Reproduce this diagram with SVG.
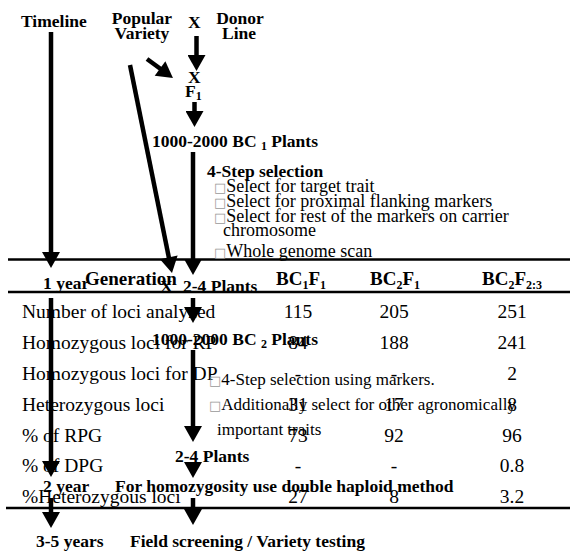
<svg xmlns="http://www.w3.org/2000/svg" width="576" height="551" viewBox="0 0 576 551">
<style>
.b{font-family:"Liberation Serif","Times New Roman",serif;font-weight:bold;font-size:17.5px;fill:#000}
.h{font-family:"Liberation Serif","Times New Roman",serif;font-weight:bold;font-size:19px;fill:#000}
.t{font-family:"Liberation Serif","Times New Roman",serif;font-size:19.5px;fill:#000}
.s{font-family:"Liberation Serif","Times New Roman",serif;font-size:18px;fill:#000}
.s2{font-family:"Liberation Serif","Times New Roman",serif;font-size:17px;fill:#000}
.bx{font-family:"DejaVu Sans",sans-serif;font-size:13px;fill:#999}
.m{text-anchor:middle}
.c line{stroke:#000;stroke-width:4.5;marker-end:url(#ah)}
.rule{stroke:#000;stroke-width:2.5}
</style>
<defs>
<marker id="ah" markerUnits="userSpaceOnUse" markerWidth="17" markerHeight="18" viewBox="0 0 16 18" refX="8" refY="9" orient="auto"><path d="M0,0 L16,9 L0,18 z" fill="#000"/></marker>
</defs>
<rect width="576" height="551" fill="#fff"/>

<g id="table">
<line class="rule" x1="8" y1="259.5" x2="570" y2="259.5"/>
<line class="rule" x1="8" y1="292" x2="570" y2="292"/>
<line class="rule" x1="6" y1="508" x2="570" y2="508"/>
<text class="h" x="85" y="285">Generation</text>
<text class="h m" x="301" y="285">BC<tspan dy="4" font-size="12">1</tspan><tspan dy="-4">F</tspan><tspan dy="4" font-size="12">1</tspan></text>
<text class="h m" x="395" y="285">BC<tspan dy="4" font-size="12">2</tspan><tspan dy="-4">F</tspan><tspan dy="4" font-size="12">1</tspan></text>
<text class="h m" x="512" y="285">BC<tspan dy="4" font-size="12">2</tspan><tspan dy="-4">F</tspan><tspan dy="4" font-size="12">2:3</tspan></text>
<text class="t" x="22" y="318">Number of loci analyzed</text>
<text class="t" x="22" y="349">Homozygous loci for RP</text>
<text class="t" x="22" y="380">Homozygous loci for DP</text>
<text class="t" x="22" y="411">Heterozygous loci</text>
<text class="t" x="22" y="442">% of RPG</text>
<text class="t" x="22" y="472">% of DPG</text>
<text class="t" x="22" y="503">%Heterozygous loci</text>
<g class="t m">
<text x="298" y="318">115</text><text x="394" y="318">205</text><text x="512" y="318">251</text>
<text x="298" y="349">84</text><text x="394" y="349">188</text><text x="512" y="349">241</text>
<text x="298" y="380">-</text><text x="394" y="380">-</text><text x="512" y="380">2</text>
<text x="298" y="411">31</text><text x="394" y="411">17</text><text x="512" y="411">8</text>
<text x="298" y="442">73</text><text x="394" y="442">92</text><text x="512" y="442">96</text>
<text x="298" y="472">-</text><text x="394" y="472">-</text><text x="512" y="472">0.8</text>
<text x="298" y="503">27</text><text x="394" y="503">8</text><text x="512" y="503">3.2</text>
</g>
</g>

<g class="c" id="connectors">
<line x1="51" y1="32" x2="51" y2="260"/>
<line x1="51" y1="298" x2="51" y2="469"/>
<line x1="51" y1="498" x2="51" y2="520"/>
<line x1="196.5" y1="36" x2="196.5" y2="63"/>
<line x1="194.5" y1="102" x2="194.5" y2="119"/>
<line x1="147" y1="59" x2="166.5" y2="73.3"/>
<line x1="130" y1="65" x2="170.4" y2="265.2"/>
<line x1="193" y1="152" x2="193" y2="267"/>
<line x1="193" y1="298" x2="193" y2="315"/>
<line x1="193" y1="350" x2="193" y2="434"/>
<line x1="193" y1="466" x2="193" y2="470"/>
<line x1="193" y1="498" x2="193" y2="517"/>
</g>

<g id="timeline"><text class="b" x="21" y="27" font-size="17">Timeline</text></g>
<g id="popular"><text class="b m" x="142" y="24">Popular</text><text class="b m" x="142" y="39">Variety</text></g>
<g id="cross1"><text class="b" x="188" y="28" font-size="18">X</text></g>
<g id="donor"><text class="b m" x="240" y="24">Donor</text><text class="b m" x="239" y="39">Line</text></g>
<g id="cross2"><text class="b" x="188" y="83">X</text></g>
<g id="f1"><text class="b" x="185" y="97">F<tspan dy="3" font-size="12">1</tspan></text></g>
<g id="bc1"><text class="b" x="152" y="147">1000-2000 BC <tspan dy="3" font-size="12">1</tspan><tspan dy="-3">  Plants</tspan></text></g>
<g id="sel1">
<text class="b" x="207" y="177">4-Step selection</text>
<text class="s" x="214" y="192"><tspan class="bx">□</tspan>Select for target trait</text>
<text class="s" x="214" y="207"><tspan class="bx">□</tspan>Select for proximal flanking markers</text>
<text class="s" x="214" y="222"><tspan class="bx">□</tspan>Select for rest of the markers on carrier</text>
<text class="s" x="223" y="236">chromosome</text>
<text class="s" x="214" y="257"><tspan class="bx">□</tspan>Whole genome scan</text>
</g>
<g id="year1"><text class="b" x="43" y="289">1 year</text></g>
<g id="cross3"><text class="b" x="160" y="292">X</text></g>
<g id="plants1"><text class="b" x="183" y="292">2-4 Plants</text></g>
<g id="bc2"><text class="b" x="152" y="345">1000-2000 BC <tspan dy="3" font-size="12">2</tspan><tspan dy="-3">  Plants</tspan></text></g>
<g id="sel2">
<text class="s2" x="209" y="385"><tspan class="bx">□</tspan>4-Step selection using markers.</text>
<text class="s2" x="209" y="410"><tspan class="bx">□</tspan>Additionally select for other agronomically</text>
<text class="s2" x="217" y="435">important traits</text>
</g>
<g id="plants2"><text class="b" x="175" y="462">2-4 Plants</text></g>
<g id="year2"><text class="b" x="43" y="492">2 year</text></g>
<g id="dh"><text class="b" x="115" y="492">For homozygosity use double haploid method</text></g>
<g id="year3"><text class="b" x="36" y="547">3-5 years</text></g>
<g id="field"><text class="b" x="130" y="547">Field screening / Variety testing</text></g>
</svg>
